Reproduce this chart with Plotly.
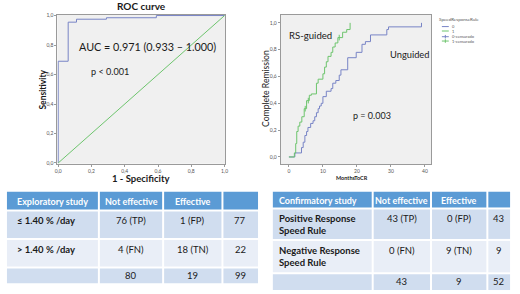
import plotly.graph_objects as go

W, H = 520, 294

# ---------------- data ----------------
roc_fpr = [0, 0, 0.06, 0.06, 0.11, 0.11, 0.29, 0.29, 0.59, 0.59, 1.0]
roc_tpr = [0, 0.69, 0.69, 0.955, 0.955, 0.975, 0.975, 0.985, 0.985, 1.0, 1.0]
ref_line = [0, 1]

green_t = [0, 1.6, 2.0, 2.3, 2.7, 3.2, 3.8, 4.5, 5.2, 6.0, 6.6, 8.1, 8.6, 10.0, 10.5,
           11.0, 11.5, 12.4, 12.9, 13.6, 14.4, 15.8, 17.0, 18.0]
green_v = [0, 0.03, 0.10, 0.19, 0.23, 0.26, 0.30, 0.36, 0.42, 0.46, 0.47, 0.55, 0.58, 0.62, 0.67,
           0.71, 0.75, 0.78, 0.82, 0.85, 0.89, 0.93, 0.95, 1.0]
green_cens_t = [4.8, 5.7, 14.8]
green_cens_v = [0.36, 0.42, 0.89]

blue_t = [0, 1.75, 3.7, 4.2, 4.7, 5.2, 5.6, 6.4, 7.1, 7.6, 8.1, 8.6, 9.0, 9.5, 10.0, 11.0,
          12.4, 12.9, 13.8, 14.8, 15.3, 17.3, 19.8, 21.5, 22.5, 24.0, 28.8, 29.3, 39.0]
blue_v = [0, 0.03, 0.07, 0.11, 0.16, 0.19, 0.22, 0.25, 0.27, 0.30, 0.33, 0.36, 0.38, 0.40, 0.45, 0.49,
          0.51, 0.55, 0.57, 0.61, 0.65, 0.74, 0.78, 0.84, 0.86, 0.91, 0.95, 0.97, 1.0]

axis_ticks = [0, 0.2, 0.4, 0.6, 0.8, 1.0]
axis_ticktext = ["0,0", "0,2", "0,4", "0,6", "0,8", "1,0"]
month_ticks = [0, 10, 20, 30, 40]

legend_title = "SpeedResponseRule"
legend_names = ["0", "1", "0-censurado", "1-censurado"]

t1_header = ["Exploratory study", "Not effective", "Effective", ""]
t1_col0 = ["≤ 1.40 % /day", "> 1.40 % /day", ""]
t1_col1 = ["76 (TP)", "4 (FN)", "80"]
t1_col2 = ["1 (FP)", "18 (TN)", "19"]
t1_col3 = ["77", "22", "99"]

t2_header = ["Confirmatory study", "Not effective", "Effective", ""]
t2_col0 = ["Positive Response<br>Speed Rule", "Negative Response<br>Speed Rule", ""]
t2_col1 = ["43 (TP)", "0 (FN)", "43"]
t2_col2 = ["0 (FP)", "9 (TN)", "9"]
t2_col3 = ["43", "9", "52"]

# ---------------- helpers ----------------
def px(x):
    return x / W

def py(y):
    return 1 - y / H

FONT = "Lato, 'Open Sans', sans-serif"
BLUE = "#7884c6"
GREEN = "#6dc46d"
HDR = "#5b9bd5"
ROW_D = "#d0ddef"
ROW_L = "#e9eef7"
TXT = "#1a1a1a"

fig = go.Figure()

# ROC
fig.add_trace(go.Scatter(x=roc_fpr, y=roc_tpr, mode="lines", line=dict(color=BLUE, width=1),
                         xaxis="x", yaxis="y", showlegend=False, hoverinfo="skip"))
fig.add_trace(go.Scatter(x=ref_line, y=ref_line, mode="lines", line=dict(color=GREEN, width=1),
                         xaxis="x", yaxis="y", showlegend=False, hoverinfo="skip"))

# KM
fig.add_trace(go.Scatter(x=blue_t, y=blue_v, mode="lines", line=dict(color=BLUE, width=1, shape="hv"),
                         xaxis="x2", yaxis="y2", showlegend=False, hoverinfo="skip"))
fig.add_trace(go.Scatter(x=green_t, y=green_v, mode="lines", line=dict(color=GREEN, width=1, shape="hv"),
                         xaxis="x2", yaxis="y2", showlegend=False, hoverinfo="skip"))
fig.add_trace(go.Scatter(x=green_cens_t, y=green_cens_v, mode="markers",
                         marker=dict(symbol="line-ns-open", size=4, color=GREEN, line=dict(width=1, color=GREEN)),
                         xaxis="x2", yaxis="y2", showlegend=False, hoverinfo="skip"))

annotations = []
shapes = []

# Tables (drawn as cells: filled rectangles + text)
def draw_table(header, cols, x0, y0, widths, heights, pad):
    nrows = len(cols[0])
    xs = [x0]
    for w in widths:
        xs.append(xs[-1] + w)
    ys = [y0]
    for h in heights:
        ys.append(ys[-1] + h)
    g = 1.0
    for r in range(nrows + 1):
        fill = HDR if r == 0 else (ROW_D if r % 2 == 1 else ROW_L)
        for c in range(len(widths)):
            shapes.append(dict(type="rect", xref="paper", yref="paper", layer="below",
                               x0=px(xs[c] + (g if c > 0 else 0)), x1=px(xs[c + 1] - (g if c < len(widths) - 1 else 0)),
                               y0=py(ys[r] + (g if r > 0 else 0)), y1=py(ys[r + 1] - (g if r < nrows else 0)),
                               fillcolor=fill, line=dict(width=0)))
            if r == 0:
                txt = header[c]
            else:
                txt = cols[c][r - 1]
            if not txt:
                continue
            if c == 0:
                txt = f"<b>{txt}</b>"
                xa, xx = "left", xs[0] + pad
            else:
                xa, xx = "center", (xs[c] + xs[c + 1]) / 2
            if r == 0:
                txt = f"<b>{txt}</b>"
                annotations.append(dict(text=txt, x=px(xx), y=py((ys[0] + ys[1]) / 2), xanchor=xa,
                                        yanchor="middle", font=dict(size=9.0, color="white")))
            elif r == nrows:
                annotations.append(dict(text=txt, x=px(xx), y=py((ys[r] + ys[r + 1]) / 2), xanchor=xa,
                                        yanchor="middle", font=dict(size=9.5)))
            else:
                annotations.append(dict(text=txt, x=px(xx), y=py(ys[r] + 3), xanchor=xa, align="left",
                                        yanchor="top", font=dict(size=9.5)))

draw_table(t1_header, [t1_col0, t1_col1, t1_col2, t1_col3], 4, 192, [93, 65, 60, 36], [19, 29, 29, 16], 8)
draw_table(t2_header, [t2_col0, t2_col1, t2_col2, t2_col3], 273, 192, [101, 59, 57, 23], [17, 32, 34, 17], 4)

axis_common = dict(showgrid=False, zeroline=False, showline=True, mirror=True, linecolor="#9a9a9a",
                   linewidth=1, ticks="outside", ticklen=2, tickcolor="#9a9a9a",
                   tickfont=dict(family=FONT, size=5, color="#555"))

annotations += [
    dict(text="<b>ROC curve</b>", x=px(140), y=py(3), font=dict(size=10)),
    dict(text="<b>Sensitivity</b>", x=px(39.5), y=py(88), textangle=-90, font=dict(size=8.5)),
    dict(text="<b>1 - Specificity</b>", x=px(140), y=py(179), font=dict(size=9.5)),
    dict(text="AUC = 0.971 (0.933 – 1.000)", x=px(75), y=py(44), xanchor="left", font=dict(size=10.8)),
    dict(text="p < 0.001", x=px(87), y=py(69.5), xanchor="left", font=dict(size=9.1)),
    dict(text="Complete Remission", x=px(266), y=py(86.5), textangle=-90, font=dict(size=8.6)),
    dict(text="<b>MonthsToCR</b>", x=px(353), y=py(178), font=dict(size=5.5)),
    dict(text="RS-guided", x=px(287), y=py(33.5), xanchor="left", font=dict(size=9.6)),
    dict(text="Unguided", x=px(389), y=py(52.5), xanchor="left", font=dict(size=9.3)),
    dict(text="p = 0.003", x=px(352.5), y=py(114.5), xanchor="left", font=dict(size=9)),
    dict(text=legend_title, x=px(439), y=py(17), xanchor="left", font=dict(size=4.5, color="#555")),
]

leg_y = [24, 28.5, 34.3, 38.7]
leg_col = [BLUE, GREEN, BLUE, GREEN]
for i, name in enumerate(legend_names):
    annotations.append(dict(text=name, x=px(452), y=py(leg_y[i]), xanchor="left",
                            font=dict(size=4, color="#555")))
    shapes.append(dict(type="line", xref="paper", yref="paper", x0=px(444), x1=px(451),
                       y0=py(leg_y[i]), y1=py(leg_y[i]), line=dict(color=leg_col[i], width=1)))
    if "censurado" in name:
        shapes.append(dict(type="line", xref="paper", yref="paper", x0=px(447.5), x1=px(447.5),
                           y0=py(leg_y[i] - 1.8), y1=py(leg_y[i] + 1.8), line=dict(color=leg_col[i], width=1)))

for a in annotations:
    a.update(xref="paper", yref="paper", showarrow=False)
    a.setdefault("xanchor", "center")
    a.setdefault("yanchor", "middle")
    a["font"].setdefault("color", TXT)
    a["font"].update(family=FONT)

fig.update_layout(
    width=W, height=H, margin=dict(l=0, r=0, t=0, b=0),
    paper_bgcolor="white", plot_bgcolor="#f0f0f0", showlegend=False,
    xaxis=dict(domain=[px(55), px(225)], range=[-0.005, 1.005], tickvals=axis_ticks,
               ticktext=axis_ticktext, anchor="y", **axis_common),
    yaxis=dict(domain=[py(163.5), py(12)], range=[-0.005, 1.005], tickvals=axis_ticks,
               ticktext=axis_ticktext, anchor="x", **axis_common),
    xaxis2=dict(domain=[px(281), px(433)], range=[-2.4, 41.8], tickvals=month_ticks,
                anchor="y2", **axis_common),
    yaxis2=dict(domain=[py(164), py(12)], range=[-0.054, 1.06], tickvals=axis_ticks,
                ticktext=axis_ticktext, anchor="x2", **axis_common),
    annotations=annotations,
    shapes=shapes,
)

fig.write_html("out.html", config={"displayModeBar": False},
               post_script="document.body.style.margin='0';document.body.style.overflow='hidden';")
